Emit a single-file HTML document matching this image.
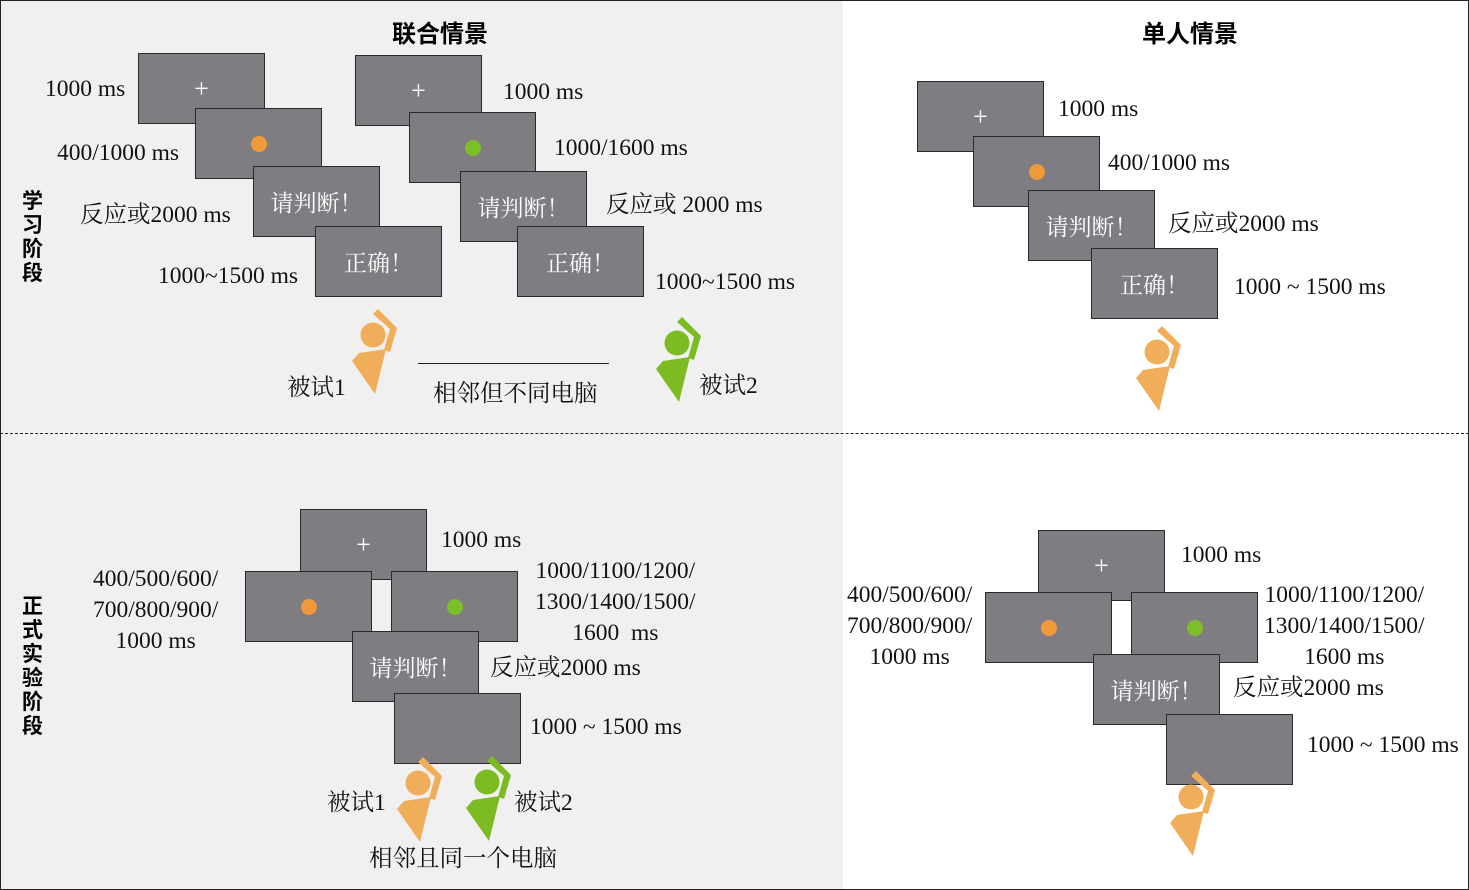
<!DOCTYPE html>
<html><head><meta charset="utf-8"><style>
body{margin:0;width:1469px;height:890px;position:relative;background:#fff;overflow:hidden;font-family:"Liberation Serif","Noto Serif CJK SC",serif;}
.b{position:absolute;width:125px;height:69px;background:#7f7d82;border:1.5px solid #2a2a2a;color:#fff;font-size:23px;display:flex;align-items:center;justify-content:center;font-family:"Liberation Serif","Noto Serif CJK SC",serif;}
.t{position:absolute;font-size:23.5px;color:#111;white-space:nowrap;line-height:30px;}
.d{width:16px;height:16px;border-radius:50%;}
.o{background:#ef9a3a}.g{background:#7cbf28}
.p{font-size:26px;font-weight:300}
.h{position:absolute;font-family:"Liberation Sans","Noto Sans CJK SC",sans-serif;font-weight:bold;font-size:24px;}
.v{position:absolute;font-family:"Liberation Sans","Noto Sans CJK SC",sans-serif;font-weight:bold;font-size:21px;line-height:24px;width:24px;}
svg.f{position:absolute;overflow:visible}
</style></head><body>
<div style="position:absolute;left:0;top:0;width:843px;height:890px;background:#f0f0f0"></div>
<div style="position:absolute;left:0;top:0;width:1467px;height:888px;border:1px solid #222"></div>
<div style="position:absolute;left:0;top:433px;width:1469px;border-top:1.5px dashed #222"></div>
<div class="h" style="left:392px;top:14px">联合情景</div>
<div class="h" style="left:1142px;top:14px">单人情景</div>
<div class="v" style="left:22px;top:190px">学习阶段</div>
<div class="v" style="left:22px;top:595px">正式实验阶段</div>

<!-- top left -->
<div class="b" style="left:138px;top:53px"><span class="p">+</span></div>
<div class="b" style="left:195px;top:108px"><div class="d o"></div></div>
<div class="b" style="left:253px;top:166px">请判断！</div>
<div class="b" style="left:315px;top:226px">正确！</div>
<div class="b" style="left:355px;top:55px"><span class="p">+</span></div>
<div class="b" style="left:409px;top:112px"><div class="d g"></div></div>
<div class="b" style="left:460px;top:171px">请判断！</div>
<div class="b" style="left:517px;top:226px">正确！</div>
<div class="t" style="left:45px;top:74px">1000 ms</div>
<div class="t" style="left:57px;top:138px">400/1000 ms</div>
<div class="t" style="left:80px;top:200px">反应或2000 ms</div>
<div class="t" style="left:158px;top:261px">1000~1500 ms</div>
<div class="t" style="left:503px;top:77px">1000 ms</div>
<div class="t" style="left:554px;top:133px">1000/1600 ms</div>
<div class="t" style="left:606px;top:190px">反应或 2000 ms</div>
<div class="t" style="left:655px;top:267px">1000~1500 ms</div>
<div class="t" style="left:287px;top:373px">被试1</div>
<div class="t" style="left:699px;top:371px">被试2</div>
<div style="position:absolute;left:418px;top:363px;width:191px;border-top:1.5px solid #222"></div>
<div class="t" style="left:433px;top:379px">相邻但不同电脑</div>

<!-- top right -->
<div class="b" style="left:917px;top:81px"><span class="p">+</span></div>
<div class="b" style="left:973px;top:136px"><div class="d o"></div></div>
<div class="b" style="left:1028px;top:190px">请判断！</div>
<div class="b" style="left:1091px;top:248px">正确！</div>
<div class="t" style="left:1058px;top:94px">1000 ms</div>
<div class="t" style="left:1108px;top:148px">400/1000 ms</div>
<div class="t" style="left:1168px;top:209px">反应或2000 ms</div>
<div class="t" style="left:1234px;top:272px">1000 ~ 1500 ms</div>

<!-- bottom left -->
<div class="b" style="left:300px;top:509px"><span class="p">+</span></div>
<div class="b" style="left:245px;top:571px"><div class="d o"></div></div>
<div class="b" style="left:391px;top:571px"><div class="d g"></div></div>
<div class="b" style="left:352px;top:631px">请判断！</div>
<div class="b" style="left:394px;top:693px"></div>
<div class="t" style="left:441px;top:525px">1000 ms</div>
<div class="t" style="left:93px;top:564px;text-align:center;line-height:31px">400/500/600/<br>700/800/900/<br>1000 ms</div>
<div class="t" style="left:535px;top:556px;text-align:center;line-height:31px">1000/1100/1200/<br>1300/1400/1500/<br>1600&nbsp; ms</div>
<div class="t" style="left:490px;top:653px">反应或2000 ms</div>
<div class="t" style="left:530px;top:712px">1000 ~ 1500 ms</div>
<div class="t" style="left:327px;top:788px">被试1</div>
<div class="t" style="left:514px;top:788px">被试2</div>
<div class="t" style="left:369px;top:844px">相邻且同一个电脑</div>

<!-- bottom right -->
<div class="b" style="left:1038px;top:530px"><span class="p">+</span></div>
<div class="b" style="left:985px;top:592px"><div class="d o"></div></div>
<div class="b" style="left:1131px;top:592px"><div class="d g"></div></div>
<div class="b" style="left:1093px;top:654px">请判断！</div>
<div class="b" style="left:1166px;top:714px"></div>
<div class="t" style="left:1181px;top:540px">1000 ms</div>
<div class="t" style="left:847px;top:580px;text-align:center;line-height:31px">400/500/600/<br>700/800/900/<br>1000 ms</div>
<div class="t" style="left:1264px;top:580px;text-align:center;line-height:31px">1000/1100/1200/<br>1300/1400/1500/<br>1600 ms</div>
<div class="t" style="left:1233px;top:673px">反应或2000 ms</div>
<div class="t" style="left:1307px;top:730px">1000 ~ 1500 ms</div>

<svg width="0" height="0" style="position:absolute"><defs>
<g id="fig"><circle cx="33" cy="35" r="12.5"/><polygon points="33,14 38,9 57,28 50,52 44,50 50,29"/><polygon points="12,61 19,53 46,49 35,94"/></g>
</defs></svg>
<svg class="f" style="left:340px;top:300px" width="60" height="100"><use href="#fig" fill="#f0ad5a"/></svg>
<svg class="f" style="left:644px;top:308px" width="60" height="100"><use href="#fig" fill="#7dbb22"/></svg>
<svg class="f" style="left:1124px;top:317px" width="60" height="100"><use href="#fig" fill="#f0ad5a"/></svg>
<svg class="f" style="left:385px;top:748px" width="60" height="100"><use href="#fig" fill="#f0ad5a"/></svg>
<svg class="f" style="left:454px;top:747px" width="60" height="100"><use href="#fig" fill="#7dbb22"/></svg>
<svg class="f" style="left:1158px;top:762px" width="60" height="100"><use href="#fig" fill="#f0ad5a"/></svg>
</body></html>
